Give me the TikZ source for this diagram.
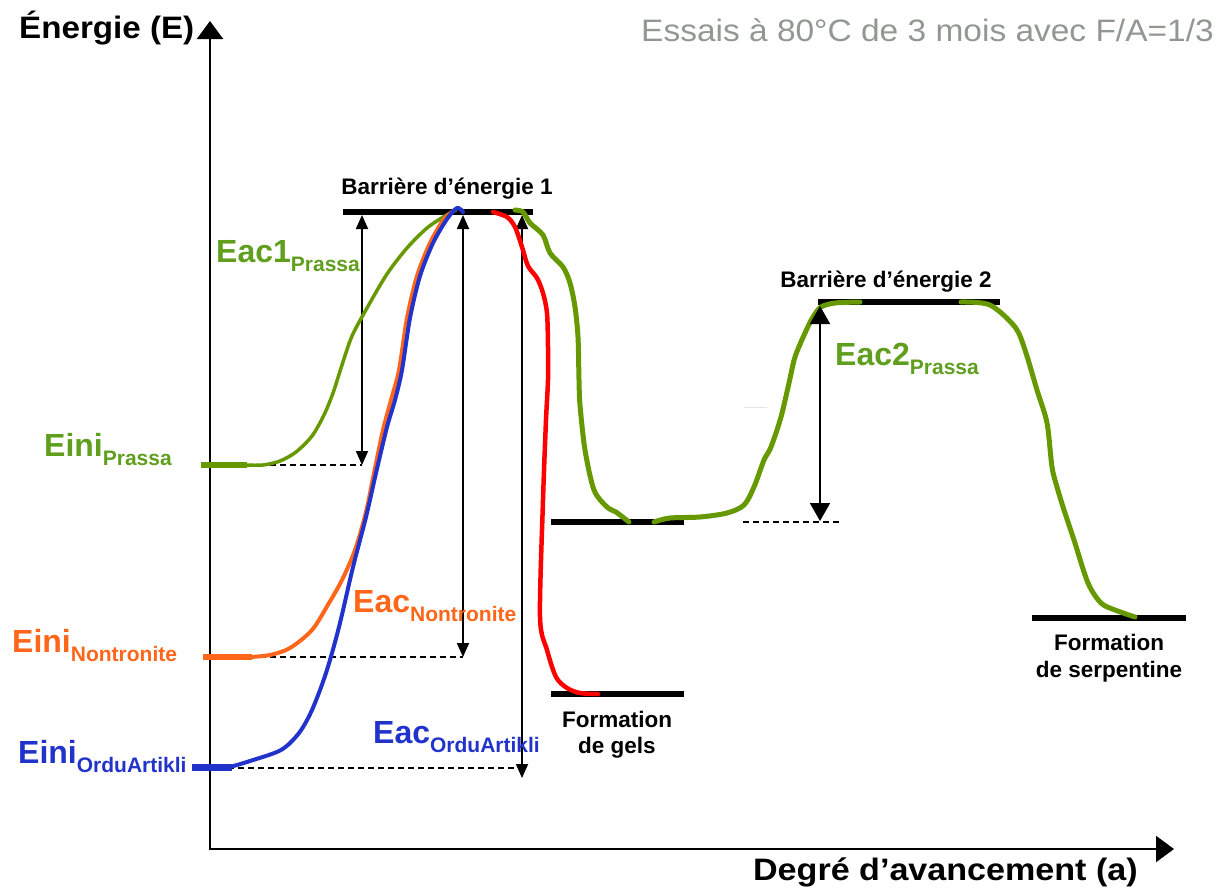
\documentclass[tikz,border=0pt]{standalone}
\usepackage{fontspec}
\setmainfont{Liberation Sans}
\usetikzlibrary{arrows.meta}
\definecolor{cgreen}{RGB}{102,153,0}
\definecolor{cgreenlab}{RGB}{96,158,30}
\definecolor{corange}{RGB}{255,102,26}
\definecolor{cblue}{RGB}{34,51,204}
\definecolor{cred}{RGB}{255,0,0}
\definecolor{cgray}{RGB}{145,152,145}
\newcommand\elab[2]{{\fontsize{32}{32}\selectfont\bfseries #1}{\fontsize{21}{21}\selectfont\bfseries\raisebox{-9pt}{#2}}}
\tikzset{
  axisline/.style={line width=2.2pt,line join=miter,{Triangle[width=26pt,length=18pt]}-{Triangle[width=26pt,length=18pt]}},
  level/.style={line width=6pt},
  dim/.style={line width=1.8pt,{Triangle[width=12pt,length=14pt]}-{Triangle[width=12pt,length=14pt]}},
  bigdim/.style={line width=1.8pt,{Triangle[width=20pt,length=18pt]}-{Triangle[width=20pt,length=18pt]}},
  guide/.style={line width=1.3pt,dash pattern=on 6pt off 4pt},
  lab/.style={inner sep=0pt,anchor=base west},
  small/.style={inner sep=0pt,anchor=base,font=\fontsize{22.5}{27}\selectfont\bfseries},
  curve/.style={line join=round,line cap=round},
}
\begin{document}
\begin{tikzpicture}[x=1pt,y=-1pt]
\useasboundingbox (0,0) rectangle (1226,892);
% axes
\coordinate (O) at (210,849);
\coordinate (Ytop) at (210,21);
\coordinate (Xend) at (1174,849);
\draw[axisline] (Ytop) -- (O) -- (Xend);
\node[inner sep=0pt,anchor=base west,font=\fontsize{31}{31}\selectfont\bfseries] (ylab) at (19,38) {\scalebox{1.07}[1]{Énergie (E)}};
\node[inner sep=0pt,anchor=base east,font=\fontsize{31}{31}\selectfont\bfseries] (xlab) at (1138,880) {\scalebox{1.1}[1]{Degré d’avancement (a)}};
\node[inner sep=0pt,anchor=base east,text=cgray,font=\fontsize{31}{31}\selectfont] (title) at (1214,41) {\scalebox{1.08}[1]{Essais à 80°C de 3 mois avec F/A=1/3}};
% levels
\coordinate (b1L) at (343,212); \coordinate (b1R) at (533,212);
\coordinate (b2L) at (818,302); \coordinate (b2R) at (1000,302);
\coordinate (miL) at (551,522); \coordinate (miR) at (684,522);
\coordinate (geL) at (551,694); \coordinate (geR) at (684,694);
\coordinate (seL) at (1032,618); \coordinate (seR) at (1186,618);
\draw[level] (b1L) -- (b1R);
\draw[level] (b2L) -- (b2R);
\draw[level] (miL) -- (miR);
\draw[level] (geL) -- (geR);
\draw[level] (seL) -- (seR);
\node[small] (b1lab) at (447,194) {Barrière d’énergie 1};
\node[small] (b2lab) at (886,287) {Barrière d’énergie 2};
\node[small] (gel1) at (617,727) {Formation};
\node[small] (gel2) at (617,753) {de gels};
\node[small] (ser1) at (1109,650) {Formation};
\node[small] (ser2) at (1109,677) {de serpentine};
% guide lines
\coordinate (gP0) at (210,465); \coordinate (gP1) at (362,465);
\coordinate (gN0) at (210,657); \coordinate (gN1) at (463,657);
\coordinate (gO0) at (228,768); \coordinate (gO1) at (522,768);
\coordinate (gI0) at (743,522); \coordinate (gI1) at (840,522);
\draw[guide] (gP0) -- (gP1);
\draw[guide] (gN0) -- (gN1);
\draw[guide] (gO0) -- (gO1);
\draw[guide] (gI0) -- (gI1);
\draw[line width=1pt,black!10] (744,407) -- (767,407);
% activation arrows
\coordinate (a1t) at (362,215); \coordinate (a1b) at (362,465);
\coordinate (ant) at (463,215); \coordinate (anb) at (463,657);
\coordinate (aot) at (522,215); \coordinate (aob) at (522,778);
\coordinate (a2t) at (820,306); \coordinate (a2b) at (820,521);
\draw[dim] (a1t) -- (a1b);
\draw[dim] (ant) -- (anb);
\draw[dim] (aot) -- (aob);
% curves
\draw[cgreen,line width=6pt] (201,465) -- (247,465);
\draw[cgreen,line width=3.5pt,curve] plot[smooth,tension=0.5] coordinates {(245,465) (263,465) (280,461) (296,452) (312,436) (324,415) (333,393) (342,365) (352,336) (367,308) (387,274) (407,248) (427,228) (445,216) (456,210)};
\draw[corange,line width=6pt] (203,657) -- (252,657);
\draw[corange,line width=4pt,curve] plot[smooth,tension=0.5] coordinates {(250,657) (270,655) (290,648) (312,630) (329,603) (342,580) (355,550) (366,512) (374,473) (383,430) (391,400) (399,370) (407,318) (417,276) (430,243) (444,219) (455,210)};
\draw[cblue,line width=7pt] (192,767) -- (232,767);
\draw[cblue,line width=4pt,curve] plot[smooth,tension=0.5] coordinates {(230,767) (250,761) (281,750) (299,733) (312,710) (326,673) (339,627) (353,567) (366,517) (376,473) (387,427) (395,400) (402,370) (410,318) (420,276) (433,243) (447,219) (457,208) (463,212)};
\draw[cred,line width=4.5pt,curve] plot[smooth,tension=0.5] coordinates {(493,212) (507,217) (515,227) (522,247) (528,266) (537,278) (543,293) (547,313) (548,347) (548,380) (546,420) (543,500) (540,617) (547,650) (556,677) (567,688) (580,693) (598,694)};
\draw[cgreen,line width=5pt,curve] plot[smooth,tension=0.5] coordinates {(515,210) (523,212) (530,223) (543,235) (550,253) (563,267) (570,283) (575,307) (578,337) (579,380) (580,405) (585,450) (594,490) (607,507) (616,512) (629,522)};
\draw[cgreen,line width=5pt,curve] plot[smooth,tension=0.5] coordinates {(654,522) (670,518) (700,517) (727,513) (744,505) (754,487) (764,460) (771,447) (781,417) (789,383) (795,357) (805,333) (813,317) (821,307) (835,303) (860,302)};
\draw[cgreen,line width=5pt,curve] plot[smooth,tension=0.5] coordinates {(961,302) (990,305) (1015,327) (1025,350) (1037,390) (1047,423) (1052,467) (1057,487) (1064,510) (1074,540) (1088,583) (1101,603) (1115,610) (1135,617)};
\draw[bigdim] (a2t) -- (a2b);
% energy labels
\node[lab,text=cgreenlab] (eac1) at (216,262) {\elab{Eac1}{Prassa}};
\node[lab,text=cgreenlab] (einip) at (44,456) {\elab{Eini}{Prassa}};
\node[lab,text=corange] (einin) at (12,652) {\elab{Eini}{Nontronite}};
\node[lab,text=cblue] (einio) at (18,763) {\elab{Eini}{OrduArtikli}};
\node[lab,text=corange] (eacn) at (353,612) {\elab{Eac}{Nontronite}};
\node[lab,text=cblue] (eaco) at (373,743) {\elab{Eac}{OrduArtikli}};
\node[lab,text=cgreenlab] (eac2) at (835,365) {\elab{Eac2}{Prassa}};
\end{tikzpicture}
\end{document}
